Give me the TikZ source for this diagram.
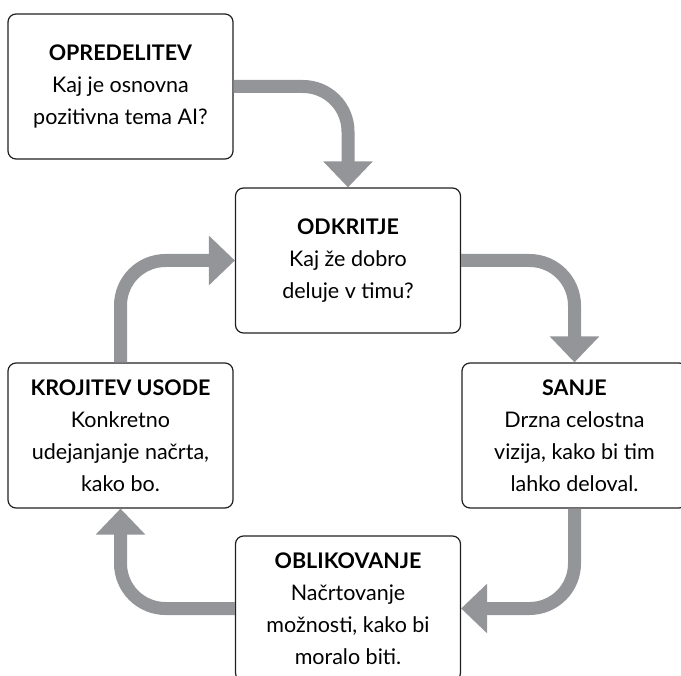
\documentclass[tikz,border=0pt]{standalone}
\usepackage{fontspec}
\setmainfont{Lato}
\usepackage{xcolor}
\usetikzlibrary{arrows.meta}

\definecolor{arrowgray}{RGB}{147,149,152}
\definecolor{boxline}{RGB}{35,31,32}

\begin{document}
\begin{tikzpicture}[x=1pt,y=-1pt] % cycle picture
		\newcommand{\boxWidth}{225pt}
		\newcommand{\boxHeight}{145pt}
		\newcommand{\bendRadius}{45pt}

		\tikzset{
			box/.style={draw=boxline, line width=1.2pt, rounded corners=8pt, fill=white,
				minimum width=\boxWidth, minimum height=\boxHeight, align=center,
				inner sep=0pt, font=\fontsize{21.5}{32}\selectfont},
			flow/.style={draw=arrowgray, line width=13pt, rounded corners=\bendRadius,
				-{Triangle[length=26pt,width=48pt]}}
		}

		\clip (0,0) rectangle (681,676);		% picture frame

		% boxes
		\node[box] (opredelitev) at (120.5,86.5) {\textbf{OPREDELITEV}\\Kaj je osnovna\\pozitivna tema AI?};
		\node[box] (odkritje) at (348,260.5) {\textbf{ODKRITJE}\\Kaj že dobro\\deluje v timu?};
		\node[box] (sanje) at (574.5,435.5) {\textbf{SANJE}\\Drzna celostna\\vizija, kako bi tim\\lahko deloval.};
		\node[box] (oblikovanje) at (348,608.5) {\textbf{OBLIKOVANJE}\\Načrtovanje\\možnosti, kako bi\\moralo biti.};
		\node[box] (krojitev) at (120.5,435.5) {\textbf{KROJITEV USODE}\\Konkretno\\udejanjanje načrta,\\kako bo.};

		% arrows
		\draw[flow] (opredelitev.east) -| (odkritje.north);
		\draw[flow] (odkritje.east) -| (sanje.north);
		\draw[flow] (sanje.south) |- (oblikovanje.east);
		\draw[flow] (oblikovanje.west) -| (krojitev.south);
		\draw[flow] (krojitev.north) |- (odkritje.west);
\end{tikzpicture}
\end{document}
